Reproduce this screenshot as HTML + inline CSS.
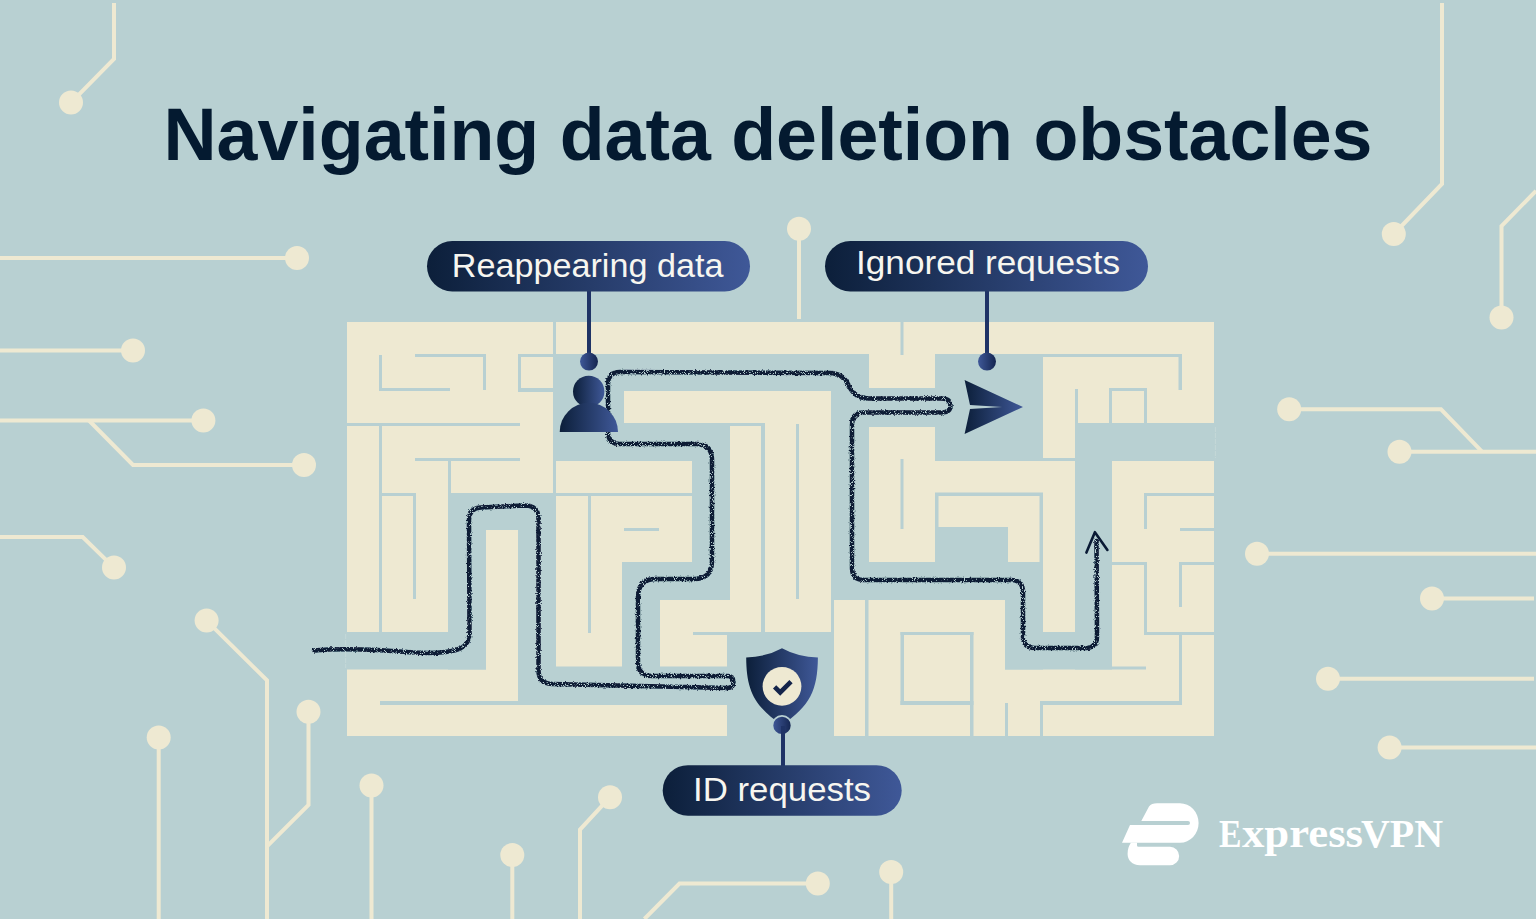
<!DOCTYPE html>
<html><head><meta charset="utf-8"><title>Navigating data deletion obstacles</title>
<style>html,body{margin:0;padding:0;background:#b8d0d2;}svg{display:block;}</style></head>
<body><svg width="1536" height="919" viewBox="0 0 1536 919">
<defs>
<filter id="rough" x="-5%" y="-5%" width="110%" height="110%"><feTurbulence type="fractalNoise" baseFrequency="0.6" numOctaves="2" seed="3" result="n"/><feDisplacementMap in="SourceGraphic" in2="n" scale="3" xChannelSelector="R" yChannelSelector="G" result="d"/><feTurbulence type="fractalNoise" baseFrequency="1.1" numOctaves="1" seed="9" result="n2"/><feColorMatrix in="n2" type="matrix" values="0 0 0 0 0  0 0 0 0 0  0 0 0 0 0  -12 0 0 0 8.1" result="m"/><feComposite in="d" in2="m" operator="in"/></filter>
<linearGradient id="g" x1="0" y1="0" x2="1" y2="0"><stop offset="0" stop-color="#0c1f3a"/><stop offset="1" stop-color="#3f5898"/></linearGradient>
<linearGradient id="gr" x1="0" y1="0" x2="1" y2="0"><stop offset="0" stop-color="#3f5898"/><stop offset="1" stop-color="#142550"/></linearGradient>
</defs>
<rect x="0" y="0" width="1536" height="919" fill="#b8d0d2"/>
<polyline points="114,3 114,59 71,102.6" fill="none" stroke="#eee9d2" stroke-width="4" stroke-linejoin="miter"/>
<polyline points="0,258 297,258" fill="none" stroke="#eee9d2" stroke-width="4" stroke-linejoin="miter"/>
<polyline points="0,350.6 133,350.6" fill="none" stroke="#eee9d2" stroke-width="4" stroke-linejoin="miter"/>
<polyline points="0,420.5 203.4,420.5" fill="none" stroke="#eee9d2" stroke-width="4" stroke-linejoin="miter"/>
<polyline points="89,420.5 133,465 304,465" fill="none" stroke="#eee9d2" stroke-width="4" stroke-linejoin="miter"/>
<polyline points="0,537 82.7,537 114,567.6" fill="none" stroke="#eee9d2" stroke-width="4" stroke-linejoin="miter"/>
<polyline points="206.6,620.6 267,680.4 267,919" fill="none" stroke="#eee9d2" stroke-width="4" stroke-linejoin="miter"/>
<polyline points="308.5,711.7 308.5,805 267,846.4" fill="none" stroke="#eee9d2" stroke-width="4" stroke-linejoin="miter"/>
<polyline points="158.7,737.6 158.7,919" fill="none" stroke="#eee9d2" stroke-width="4" stroke-linejoin="miter"/>
<polyline points="371.5,785.5 371.5,919" fill="none" stroke="#eee9d2" stroke-width="4" stroke-linejoin="miter"/>
<polyline points="512.3,855 512.3,919" fill="none" stroke="#eee9d2" stroke-width="4" stroke-linejoin="miter"/>
<polyline points="610,797.2 580,829.6 580,919" fill="none" stroke="#eee9d2" stroke-width="4" stroke-linejoin="miter"/>
<polyline points="817.8,883.5 679.5,883.5 644.4,919" fill="none" stroke="#eee9d2" stroke-width="4" stroke-linejoin="miter"/>
<polyline points="891.2,872 891.2,919" fill="none" stroke="#eee9d2" stroke-width="4" stroke-linejoin="miter"/>
<polyline points="799,228.7 799,319" fill="none" stroke="#eee9d2" stroke-width="4" stroke-linejoin="miter"/>
<polyline points="1442,3 1442,184 1393.8,234" fill="none" stroke="#eee9d2" stroke-width="4" stroke-linejoin="miter"/>
<polyline points="1536,190.8 1501.5,226 1501.5,317.4" fill="none" stroke="#eee9d2" stroke-width="4" stroke-linejoin="miter"/>
<polyline points="1289.2,409.3 1441,409.3 1482,451.7" fill="none" stroke="#eee9d2" stroke-width="4" stroke-linejoin="miter"/>
<polyline points="1399.5,451.7 1536,451.7" fill="none" stroke="#eee9d2" stroke-width="4" stroke-linejoin="miter"/>
<polyline points="1257,553.8 1536,553.8" fill="none" stroke="#eee9d2" stroke-width="4" stroke-linejoin="miter"/>
<polyline points="1432,598.5 1534,598.5" fill="none" stroke="#eee9d2" stroke-width="4" stroke-linejoin="miter"/>
<polyline points="1328,678.8 1534,678.8" fill="none" stroke="#eee9d2" stroke-width="4" stroke-linejoin="miter"/>
<polyline points="1389.6,747.5 1536,747.5" fill="none" stroke="#eee9d2" stroke-width="4" stroke-linejoin="miter"/>
<circle cx="71" cy="102.6" r="12" fill="#eee9d2"/>
<circle cx="297" cy="258" r="12" fill="#eee9d2"/>
<circle cx="133" cy="350.6" r="12" fill="#eee9d2"/>
<circle cx="203.4" cy="420.5" r="12" fill="#eee9d2"/>
<circle cx="304" cy="465" r="12" fill="#eee9d2"/>
<circle cx="114" cy="567.6" r="12" fill="#eee9d2"/>
<circle cx="206.6" cy="620.6" r="12" fill="#eee9d2"/>
<circle cx="308.5" cy="711.7" r="12" fill="#eee9d2"/>
<circle cx="158.7" cy="737.6" r="12" fill="#eee9d2"/>
<circle cx="371.5" cy="785.5" r="12" fill="#eee9d2"/>
<circle cx="512.3" cy="855" r="12" fill="#eee9d2"/>
<circle cx="610" cy="797.2" r="12" fill="#eee9d2"/>
<circle cx="817.8" cy="883.5" r="12" fill="#eee9d2"/>
<circle cx="891.2" cy="872" r="12" fill="#eee9d2"/>
<circle cx="799" cy="228.7" r="12" fill="#eee9d2"/>
<circle cx="1393.8" cy="234" r="12" fill="#eee9d2"/>
<circle cx="1501.5" cy="317.4" r="12" fill="#eee9d2"/>
<circle cx="1289.2" cy="409.3" r="12" fill="#eee9d2"/>
<circle cx="1399.5" cy="451.7" r="12" fill="#eee9d2"/>
<circle cx="1257" cy="553.8" r="12" fill="#eee9d2"/>
<circle cx="1432" cy="598.5" r="12" fill="#eee9d2"/>
<circle cx="1328" cy="678.8" r="12" fill="#eee9d2"/>
<circle cx="1389.6" cy="747.5" r="12" fill="#eee9d2"/>
<rect x="347" y="322" width="867" height="414" fill="#eee9d2"/>
<rect x="553" y="354" width="316" height="37" fill="#b8d0d2"/>
<rect x="553" y="354" width="71" height="107" fill="#b8d0d2"/>
<rect x="553" y="423" width="177" height="38" fill="#b8d0d2"/>
<rect x="692" y="423" width="38" height="177" fill="#b8d0d2"/>
<rect x="831" y="391" width="38" height="209" fill="#b8d0d2"/>
<rect x="869" y="388" width="66" height="39" fill="#b8d0d2"/>
<rect x="935" y="354" width="108" height="107" fill="#b8d0d2"/>
<rect x="1075" y="423" width="139" height="38" fill="#b8d0d2"/>
<rect x="1075" y="423" width="37" height="246.5" fill="#b8d0d2"/>
<rect x="448" y="493" width="108" height="37" fill="#b8d0d2"/>
<rect x="448" y="530" width="38" height="139.5" fill="#b8d0d2"/>
<rect x="518" y="530" width="38" height="175" fill="#b8d0d2"/>
<rect x="347" y="632" width="139" height="37.5" fill="#b8d0d2"/>
<rect x="518" y="666.5" width="209" height="38.5" fill="#b8d0d2"/>
<rect x="622" y="562" width="108" height="38" fill="#b8d0d2"/>
<rect x="622" y="562" width="38" height="143" fill="#b8d0d2"/>
<rect x="727" y="632" width="107" height="105" fill="#b8d0d2"/>
<rect x="831" y="562" width="212" height="38" fill="#b8d0d2"/>
<rect x="935" y="527" width="73" height="35" fill="#b8d0d2"/>
<rect x="1005" y="562" width="38" height="107.5" fill="#b8d0d2"/>
<rect x="1005" y="632" width="107" height="37.5" fill="#b8d0d2"/>
<rect x="379" y="355" width="3" height="36" fill="#b8d0d2"/>
<rect x="379" y="388" width="71" height="3" fill="#b8d0d2"/>
<rect x="415" y="354" width="71" height="3" fill="#b8d0d2"/>
<rect x="483" y="354" width="3" height="36" fill="#b8d0d2"/>
<rect x="518" y="354" width="3" height="38" fill="#b8d0d2"/>
<rect x="518" y="354" width="35" height="3" fill="#b8d0d2"/>
<rect x="518" y="388" width="35" height="4" fill="#b8d0d2"/>
<rect x="553" y="322" width="3" height="32" fill="#b8d0d2"/>
<rect x="347" y="423" width="173" height="3" fill="#b8d0d2"/>
<rect x="379" y="423" width="3" height="209" fill="#b8d0d2"/>
<rect x="415" y="458" width="105" height="3" fill="#b8d0d2"/>
<rect x="448" y="458" width="3" height="35" fill="#b8d0d2"/>
<rect x="553" y="461" width="3" height="32" fill="#b8d0d2"/>
<rect x="379" y="493" width="37" height="3" fill="#b8d0d2"/>
<rect x="413" y="493" width="3" height="106" fill="#b8d0d2"/>
<rect x="556" y="493" width="136" height="3" fill="#b8d0d2"/>
<rect x="588" y="496" width="3" height="137" fill="#b8d0d2"/>
<rect x="624" y="528" width="35" height="3" fill="#b8d0d2"/>
<rect x="727" y="423" width="38" height="3" fill="#b8d0d2"/>
<rect x="761" y="423" width="4" height="209" fill="#b8d0d2"/>
<rect x="796" y="424" width="3" height="175" fill="#b8d0d2"/>
<rect x="900.5" y="322" width="3.0" height="33" fill="#b8d0d2"/>
<rect x="900.5" y="459" width="3.0" height="70" fill="#b8d0d2"/>
<rect x="693" y="632" width="68" height="3" fill="#b8d0d2"/>
<rect x="831" y="600" width="3" height="136" fill="#b8d0d2"/>
<rect x="865" y="600" width="3.5" height="136" fill="#b8d0d2"/>
<rect x="900.5" y="632" width="73.0" height="3" fill="#b8d0d2"/>
<rect x="900.5" y="632" width="3.5" height="73" fill="#b8d0d2"/>
<rect x="900.5" y="701" width="73.0" height="4" fill="#b8d0d2"/>
<rect x="970" y="632" width="3.5" height="104" fill="#b8d0d2"/>
<rect x="380" y="701" width="141" height="4" fill="#b8d0d2"/>
<rect x="1043" y="354" width="139" height="3" fill="#b8d0d2"/>
<rect x="1178.5" y="354" width="3.5" height="36" fill="#b8d0d2"/>
<rect x="1075" y="389" width="3" height="34" fill="#b8d0d2"/>
<rect x="1109" y="388" width="3" height="35" fill="#b8d0d2"/>
<rect x="1109" y="388" width="38" height="3" fill="#b8d0d2"/>
<rect x="1144" y="388" width="3" height="35" fill="#b8d0d2"/>
<rect x="1043" y="458" width="32" height="3" fill="#b8d0d2"/>
<rect x="935" y="492.5" width="108" height="3.5" fill="#b8d0d2"/>
<rect x="935" y="493" width="3.5" height="36" fill="#b8d0d2"/>
<rect x="1039.5" y="493" width="3.5" height="69" fill="#b8d0d2"/>
<rect x="1144" y="493" width="70" height="3" fill="#b8d0d2"/>
<rect x="1144" y="493" width="3" height="36" fill="#b8d0d2"/>
<rect x="1180" y="528" width="34" height="3" fill="#b8d0d2"/>
<rect x="1112" y="562" width="35" height="3" fill="#b8d0d2"/>
<rect x="1144" y="562" width="3" height="73" fill="#b8d0d2"/>
<rect x="1144" y="632" width="70" height="3" fill="#b8d0d2"/>
<rect x="1179" y="562" width="35" height="3" fill="#b8d0d2"/>
<rect x="1179" y="562" width="3" height="45" fill="#b8d0d2"/>
<rect x="1179" y="633" width="3" height="72" fill="#b8d0d2"/>
<rect x="1112" y="666.5" width="34" height="3.0" fill="#b8d0d2"/>
<rect x="1005" y="703" width="3" height="33" fill="#b8d0d2"/>
<rect x="1040" y="701" width="142" height="4" fill="#b8d0d2"/>
<rect x="1040" y="701" width="3" height="35" fill="#b8d0d2"/>
<line x1="1215.4" y1="427" x2="1215.4" y2="458" stroke="#c4d8d8" stroke-width="1" stroke-dasharray="5,1"/>
<line x1="345.6" y1="634" x2="345.6" y2="668" stroke="#c4d8d8" stroke-width="1" stroke-dasharray="5,1"/>
<path d="M314,650.5 C345,647.5 385,650 414,652.5 C440,654 456,651 461,648 Q469.5,644 469.5,632 L469,520 Q469,508 481,507.5 L525,505.5 Q538,505.5 538.5,518 L538.5,670 Q538.5,683.5 552,684 L727,688 Q733.5,688 733.5,682 Q733.5,676 727,676 L652,676 Q638,676 638,662 L638,597 Q638,579 656,579 L694,579 Q712,579 712,561 L712,460 Q712,444 696,444 L620,444 Q608,444 608,432 L608,384 Q608,372 620,372 L830,373 Q843,373 849,386 Q855,398.5 868,398.5 L941,398.5 Q950.5,398.5 950.5,405.5 Q950.5,412.5 941,412.5 L864,412.5 Q852,412.5 852,424.5 L852,568 Q852,580 864,580 L1011,580 Q1023,580 1023,592 L1023,636 Q1023,648 1035,648 L1086,648 Q1097,648 1097,636 L1096.5,541" fill="none" stroke="#0a1a35" stroke-width="4.5" stroke-linecap="round" stroke-linejoin="round" filter="url(#rough)"/>
<polyline points="1086.4,552.6 1094.9,532.2 1107.4,549.9" fill="none" stroke="#0a1a35" stroke-width="2.6" stroke-linecap="round" stroke-linejoin="round"/>
<rect x="587" y="290" width="4" height="72" fill="#1f3366"/>
<circle cx="589" cy="361.6" r="9" fill="url(#gr)"/>
<rect x="985" y="290" width="4" height="72" fill="#1f3366"/>
<circle cx="987" cy="361.6" r="9" fill="url(#gr)"/>
<g><circle cx="588.7" cy="391.4" r="15.7" fill="url(#g)"/><path d="M559.7,432 A29,29 0 0 1 618,432 Z" fill="url(#g)"/></g>
<path d="M964.6,380 L1023,407 L964.6,434 L970,409 L1002,407 L970,405 Z" fill="url(#g)"/>
<path d="M782,648.2 Q766,657 746.2,657.4 C746.4,690 754,706 782,725 C810,706 817.6,690 817.9,657.4 Q798,657 782,648.2 Z" fill="url(#g)"/>
<circle cx="782" cy="686.3" r="19.4" fill="#eee9d2"/>
<polyline points="774.6,686.8 780.2,692.4 791,681.6" fill="none" stroke="#14244a" stroke-width="4.6"/>
<circle cx="782" cy="725.4" r="9.5" fill="url(#gr)" stroke="#b8d0d2" stroke-width="1.6"/>
<rect x="781" y="726" width="4" height="41" fill="#1f3366"/>
<rect x="427" y="241" width="323" height="50.5" rx="25.25" fill="url(#g)"/><text x="451.8" y="277" textLength="271.6" lengthAdjust="spacingAndGlyphs" style="font-family:'Liberation Sans',sans-serif;font-size:33px;fill:#f7f6f0">Reappearing data</text>
<rect x="825" y="241" width="323" height="50.5" rx="25.25" fill="url(#g)"/><text x="856" y="274.3" textLength="264" lengthAdjust="spacingAndGlyphs" style="font-family:'Liberation Sans',sans-serif;font-size:33px;fill:#f7f6f0">Ignored requests</text>
<rect x="662.7" y="765.2" width="239" height="50.5" rx="25.25" fill="url(#g)"/><text x="693" y="800.8" textLength="178" lengthAdjust="spacingAndGlyphs" style="font-family:'Liberation Sans',sans-serif;font-size:33px;fill:#f7f6f0">ID requests</text>
<text x="163.5" y="160" textLength="1209" lengthAdjust="spacingAndGlyphs" style="font-family:'Liberation Sans',sans-serif;font-weight:bold;font-size:75px;fill:#041a30">Navigating data deletion obstacles</text>
<path d="M1141.3,821 L1149,806.5 Q1151.5,803.2 1157,803.2 L1180,803.2 A18.6,19.75 0 0 1 1180,842.7 L1122,842.7 L1130,825 L1188,825 A2,2 0 0 0 1188,821 Z" fill="#ffffff"/>
<path d="M1130.9,842.7 L1137,842.7 L1137,845.5 Q1137,846.8 1138.5,846.8 L1170,846.8 A9.2,9.2 0 0 1 1170,865.2 L1140,865.2 C1132,865.2 1127.6,860 1127.6,854 C1127.6,849 1129,845.5 1130.9,842.7 Z" fill="#ffffff"/>
<text x="1219" y="846.5" textLength="22.5" lengthAdjust="spacingAndGlyphs" style="font-family:'Liberation Serif',serif;font-weight:bold;fill:#ffffff;font-size:39px">E</text>
<text x="1242" y="846.5" textLength="121" lengthAdjust="spacingAndGlyphs" style="font-family:'Liberation Serif',serif;font-weight:bold;fill:#ffffff;font-size:42px">xpress</text>
<text x="1361" y="846.5" textLength="82" lengthAdjust="spacingAndGlyphs" style="font-family:'Liberation Serif',serif;font-weight:bold;fill:#ffffff;font-size:39px">VPN</text>
</svg></body></html>
